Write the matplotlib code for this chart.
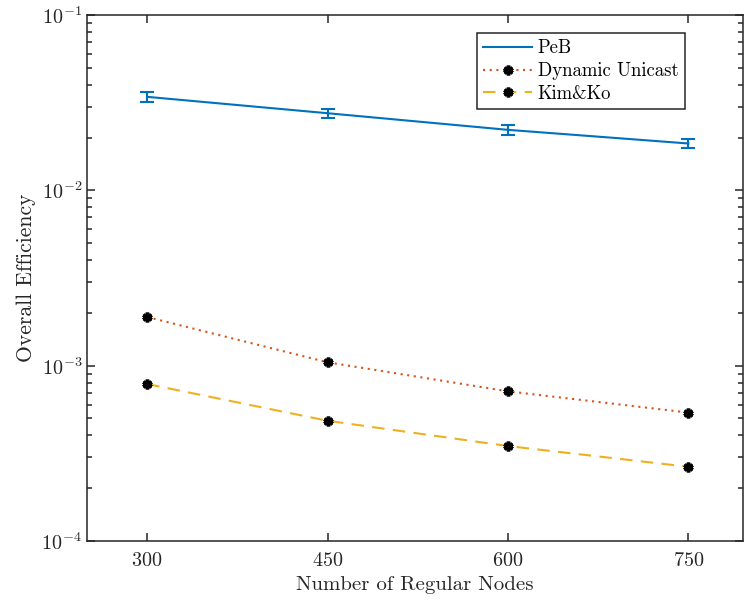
import matplotlib
matplotlib.use("Agg")
import matplotlib.pyplot as plt
from matplotlib.ticker import LogLocator, NullFormatter

plt.rcParams["font.family"] = ["cmr10", "DejaVu Serif"]
plt.rcParams["mathtext.fontset"] = "cm"
plt.rcParams["axes.formatter.use_mathtext"] = True

nodes = [300, 450, 600, 750]
peb = [0.03414, 0.02753, 0.02213, 0.01850]
peb_err = [0.00237, 0.00157, 0.00145, 0.00113]
dyn_unicast = [0.001895, 0.001045, 0.000714, 0.000540]
kim_ko = [0.000786, 0.000485, 0.000348, 0.000265]

fig = plt.figure(figsize=(7.44, 6.0), dpi=100)
ax = fig.add_axes([87 / 744, 1 - 541 / 600, (742.5 - 87) / 744, (541 - 15) / 600])

# line for the legend, error bars drawn separately so the legend key stays plain
ax.plot(nodes, peb, color="#0072BD", lw=1.5, label="PeB")
ax.errorbar(nodes, peb, yerr=peb_err, fmt="none", ecolor="#0072BD",
            capsize=4.8, capthick=1.5, elinewidth=1.5)
ax.plot(nodes, dyn_unicast, color="#D95319", lw=1.5, ls=(0, (1, 2.2)),
        marker=(6, 2, 0), ms=7, mec="black", mew=2.6, label="Dynamic Unicast")
ax.plot(nodes, kim_ko, color="#EDB120", lw=1.5, ls=(0, (6, 4)),
        marker=(6, 2, 0), ms=7, mec="black", mew=2.6, label="Kim&Ko")

ax.set_yscale("log")
ax.set_ylim(1e-4, 1e-1)
ax.set_xlim(250, 795)
ax.set_xticks(nodes)
ax.yaxis.set_major_locator(LogLocator(base=10, numticks=10))
ax.yaxis.set_minor_locator(LogLocator(base=10, subs=range(2, 10), numticks=10))
ax.yaxis.set_minor_formatter(NullFormatter())

ax.tick_params(which="both", direction="in", top=True, right=True,
               colors="#262626", labelcolor="#262626", labelsize=14.5, width=1.1)
ax.tick_params(which="major", length=6)
ax.tick_params(which="minor", length=3.5)
ax.tick_params(axis="x", pad=8)
for s in ax.spines.values():
    s.set_linewidth(1.1)
    s.set_color("#262626")

ax.set_xlabel("Number of Regular Nodes", fontsize=15, color="#262626", labelpad=4)
ax.set_ylabel("Overall Efficiency", fontsize=15.5, color="#262626", labelpad=4)

leg = ax.legend(loc="upper right", bbox_to_anchor=(0.9123, 0.9658), borderaxespad=0,
                fontsize=13.5, fancybox=False, edgecolor="#262626", framealpha=1,
                handlelength=2.6, borderpad=0.35, labelspacing=0.25, handletextpad=0.3)
leg.get_frame().set_linewidth(1.1)

fig.savefig("out.png", dpi=100)
